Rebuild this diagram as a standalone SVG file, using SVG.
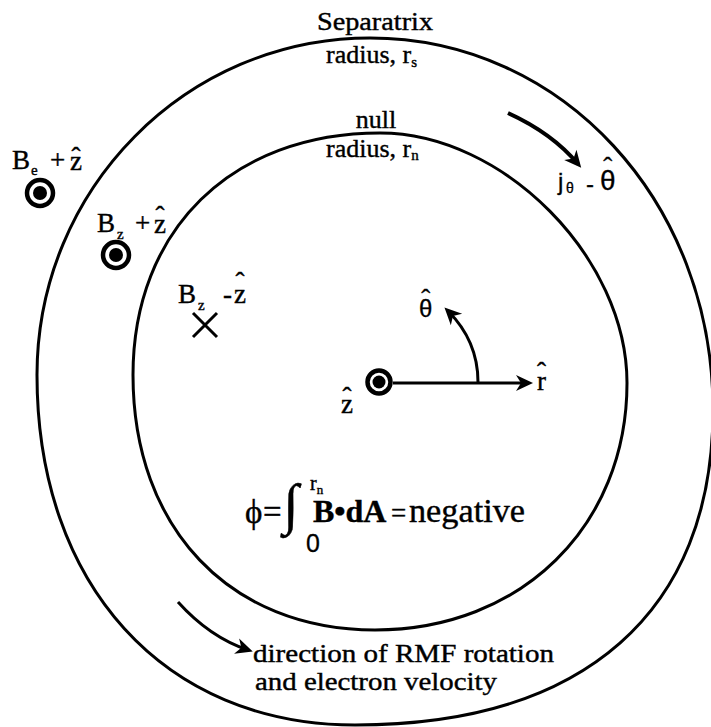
<svg xmlns="http://www.w3.org/2000/svg" width="711" height="727" viewBox="0 0 711 727">
<style>
 .ln{fill:none;stroke:#000;stroke-width:3;stroke-linejoin:round}
 .arw{fill:none;stroke:#000;stroke-width:3}
 .t{font-family:"Liberation Serif","Times New Roman",serif;fill:#000;stroke:#000;stroke-width:0.4}
 .s{font-family:"Liberation Sans",Arial,sans-serif;fill:#000;stroke:#000;stroke-width:0.3}
 .lab{font-size:27px}
 .sub{font-size:15px}
 .hat{font-family:"Liberation Serif","Times New Roman",serif;font-size:27px}
 .ring{fill:none;stroke:#000;stroke-width:4.5}
</style>
<defs>
 <marker id="ah" markerUnits="userSpaceOnUse" markerWidth="30" markerHeight="30" orient="auto" overflow="visible" refX="0" refY="0">
  <path d="M5,0 L-12,-8 L-7,0 L-12,8 Z" fill="#000"/>
 </marker>
 <g id="dot"><circle r="13" class="ring"/><circle r="7" fill="#000"/></g>
 <g id="dotc"><circle r="11.5" class="ring"/><circle r="6.5" fill="#000"/></g>
</defs>
<rect width="711" height="727" fill="#fff"/>

<g id="separatrix">
 <path class="ln" d="M370,38 C562,38 713,201.7 713,410 C713,611.6 584.1,725 355,725 C164.2,725 37,585 37,375 C37,188.9 186.1,38 370,38 Z"/>
 <text class="t" x="375" y="30" font-size="26" text-anchor="middle" textLength="116" lengthAdjust="spacingAndGlyphs">Separatrix</text>
 <text class="t" x="326" y="63" font-size="26">radius, r<tspan font-size="15" dy="4">s</tspan></text>
</g>

<g id="null-circle">
 <path class="ln" d="M380,133 C503.5,133 627,258 627,383 C627,526 521,630 375,630 C229.8,630 133,528 133,375 C133,229.8 231.8,133 380,133 Z"/>
 <text class="t" x="376" y="128" font-size="26" text-anchor="middle">null</text>
 <text class="t" x="326" y="157" font-size="26">radius, r<tspan font-size="15" dy="3">n</tspan></text>
</g>

<g id="Be-plus-z">
 <text class="t lab" x="12" y="169">B</text>
 <text class="t sub" x="31" y="175">e</text>
 <text class="t lab" x="50" y="169">+</text>
 <text class="t lab" x="70" y="170">z<tspan class="hat" dx="-10.5" dy="-4">ˆ</tspan></text>
 <use href="#dot" x="40" y="193"/>
</g>

<g id="Bz-plus-z">
 <text class="t lab" x="97" y="232">B</text>
 <text class="t sub" x="117" y="239">z</text>
 <text class="t lab" x="135" y="232">+</text>
 <text class="t lab" x="154" y="233">z<tspan class="hat" dx="-10.5" dy="-8">ˆ</tspan></text>
 <use href="#dot" x="116" y="255"/>
</g>

<g id="Bz-minus-z">
 <text class="t lab" x="178" y="303">B</text>
 <text class="t sub" x="198" y="310">z</text>
 <text class="t lab" x="223" y="303">-</text>
 <text class="t lab" x="234" y="303">z<tspan class="hat" dx="-10.5" dy="-12">ˆ</tspan></text>
 <path class="arw" d="M193,313 L217,337 M217,313 L193,337"/>
</g>

<g id="origin">
 <use href="#dotc" x="379" y="382"/>
 <text class="t lab" x="341" y="413">z<tspan class="hat" dx="-10.5" dy="-7">ˆ</tspan></text>
 <text class="t lab" x="537" y="390">r<tspan class="hat" dx="-9" dy="-9">ˆ</tspan></text>
 <text class="s" x="419" y="317" font-size="24">θ<tspan class="hat" dx="-11.2" dy="-9">ˆ</tspan></text>
</g>

<g id="current-label">
 <text class="s" x="558" y="190" font-size="24">j</text>
 <text class="s" x="566" y="193" font-size="14">θ</text>
 <text class="s" x="586" y="192" font-size="24">-</text>
 <text class="s" x="600" y="190" font-size="28">θ<tspan class="hat" dx="-12.3" dy="-14">ˆ</tspan></text>
</g>

<g id="flux-equation">
 <text class="t" x="245" y="523" font-size="33">ϕ</text>
 <text class="t" x="263" y="523" font-size="33">=</text>
 <text class="t" x="283" y="523" font-size="56">∫</text>
 <text class="t" x="310" y="490" font-size="20">r<tspan font-size="13" dy="4">n</tspan></text>
 <text class="s" x="306" y="552" font-size="25">0</text>
 <text class="t" x="313" y="522" font-size="32" font-weight="bold">B•dA</text>
 <text class="t" x="391" y="522" font-size="27">=</text>
 <text class="t" x="409" y="522" font-size="33" textLength="116" lengthAdjust="spacingAndGlyphs">negative</text>
</g>

<g id="rotation-label">
 <text class="t" x="253" y="662" font-size="25" textLength="301" lengthAdjust="spacingAndGlyphs">direction of RMF rotation</text>
 <text class="t" x="255" y="690" font-size="25" textLength="242" lengthAdjust="spacingAndGlyphs">and electron velocity</text>
</g>

<g id="connectors">
 <path class="arw" d="M393,383 L528,383" marker-end="url(#ah)"/>
 <path class="arw" d="M478,382 C478,352 465,328 448,311" marker-end="url(#ah)"/>
 <path class="arw" style="stroke-width:4" d="M508,113 C530,123 558,140 578,164" marker-end="url(#ah)"/>
 <path class="arw" d="M178,602 C196,622 218,640 248,650" marker-end="url(#ah)"/>
</g>
</svg>
